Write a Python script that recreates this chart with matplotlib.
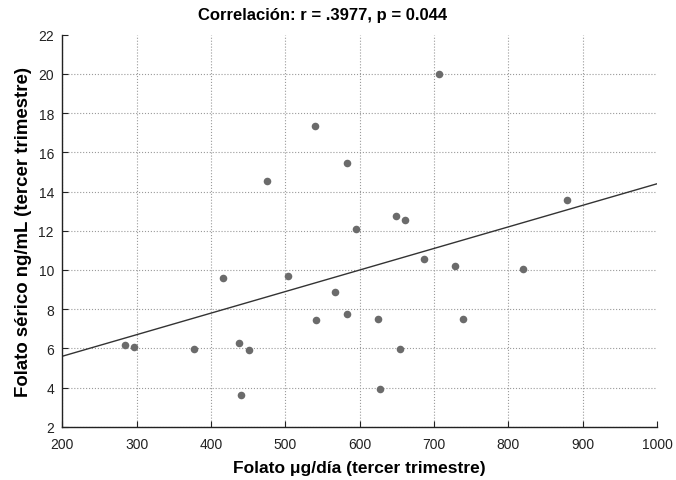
import matplotlib
matplotlib.use("Agg")
import matplotlib.pyplot as plt
import numpy as np

# folate intake (x) vs serum folate (y), third trimester
folato_dieta = [284.6, 296.6, 377.7, 416.6, 437.6, 440.8, 451.0, 475.7, 503.9,
                540.0, 541.5, 567.0, 582.6, 583.5, 595.2, 624.2, 627.6, 649.3,
                654.2, 661.0, 686.4, 706.0, 728.5, 739.2, 819.3, 879.0]
folato_serico = [6.19, 6.09, 5.95, 9.59, 6.29, 3.61, 5.92, 14.54, 9.68,
                 17.35, 7.46, 8.88, 15.46, 7.77, 12.09, 7.50, 3.91, 12.76,
                 5.95, 12.55, 10.54, 20.0, 10.19, 7.50, 10.04, 13.59]

# regression line
fit_intercept = 3.40
fit_slope = 0.0110
fit_range = [200, 1000]

x_ticks = list(range(200, 1001, 100))
y_ticks = list(range(2, 23, 2))

plt.rcParams["font.family"] = ["Liberation Sans", "DejaVu Sans"]

fig = plt.figure(figsize=(6.76, 4.81), dpi=100)
ax = fig.add_axes([0.0922, 0.1106, 0.8798, 0.815])

ax.scatter(folato_dieta, folato_serico, s=30, color="#6b6b6b", zorder=3, linewidths=0)
fx = np.array(fit_range, dtype=float)
ax.plot(fx, fit_intercept + fit_slope * fx, color="#333333", lw=1.0, zorder=2)

ax.set_xlim(200, 1000)
ax.set_ylim(2, 22)
ax.set_xticks(x_ticks)
ax.set_yticks(y_ticks)
ax.tick_params(direction="in", length=4, width=0.8, labelsize=10, colors="#222222")
ax.tick_params(axis="x", pad=7)
ax.tick_params(axis="y", pad=6)
ax.grid(True, ls=":", lw=0.8, color="#9a9a9a", zorder=0)
ax.xaxis.get_gridlines()[-1].set_visible(False)
ax.yaxis.get_gridlines()[-1].set_visible(False)
for side in ["top", "right"]:
    ax.spines[side].set_visible(False)
for side in ["left", "bottom"]:
    ax.spines[side].set_linewidth(1.0)
    ax.spines[side].set_color("#222222")

ax.text(0.438, 1.052, "Correlación: r = .3977, p = 0.044", transform=ax.transAxes,
        ha="center", va="center", fontsize=12, fontweight="bold")
ax.set_xlabel("Folato \u03bcg/día (tercer trimestre)", fontsize=12.5, fontweight="bold", va="center")
ax.set_ylabel("Folato sérico ng/mL (tercer trimestre)", fontsize=13.4, fontweight="bold", va="center")
ax.xaxis.set_label_coords(0.5, -0.1026)
ax.yaxis.set_label_coords(-0.066, 0.5)

fig.savefig("out.png", dpi=100)
